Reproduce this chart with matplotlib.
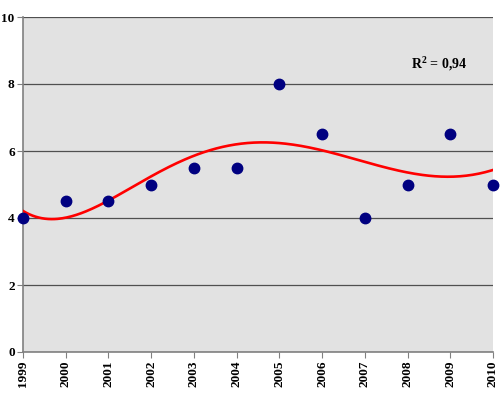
import numpy as np
import matplotlib
matplotlib.use("Agg")
from matplotlib import pyplot as plt

# data
years = [1999, 2000, 2001, 2002, 2003, 2004, 2005, 2006, 2007, 2008, 2009, 2010]
values = [4, 4.5, 4.5, 5, 5.5, 5.5, 8, 6.5, 4, 5, 6.5, 5]
y_ticks = [0, 2, 4, 6, 8, 10]
r2_label = "R$^{2}$ = 0,94"

plt.rcParams["font.family"] = "Liberation Serif"
plt.rcParams["font.weight"] = "bold"
plt.rcParams["mathtext.fontset"] = "custom"
plt.rcParams["mathtext.rm"] = "Liberation Serif:bold"

fig = plt.figure(figsize=(5.02, 3.97), dpi=100)
ax = fig.add_axes([23 / 502, 45 / 397, 470 / 502, 335 / 397])
ax.set_facecolor("#e2e2e2")

# polynomial trend line (5th order) fitted to the points
coef = np.polyfit(np.array(years) - 1999, values, 5)
xs = np.linspace(1999, 2010, 300)
ax.plot(xs, np.polyval(coef, xs - 1999), color="#ff0000", lw=1.9, zorder=3)

ax.plot(years, values, "o", color="#000080", ms=7.5, clip_on=False, zorder=4)

ax.set_xlim(1999, 2010)
ax.set_ylim(0, 10)
ax.set_xticks(years)
ax.set_xticklabels([str(y) for y in years], rotation=90, fontsize=9.5, fontweight="bold")
ax.set_yticks(y_ticks)
ax.set_yticklabels([str(v) for v in y_ticks], fontsize=9.5, fontweight="bold")
ax.yaxis.grid(True, color="#505050", lw=0.9)
ax.set_axisbelow(True)

for s in ["top", "right"]:
    ax.spines[s].set_visible(False)
for s in ["left", "bottom"]:
    ax.spines[s].set_color("#808080")
    ax.spines[s].set_linewidth(1.2)
ax.tick_params(direction="out", length=4, color="#808080", pad=2)

ax.text(2008.73, 8.6, r2_label, fontsize=10, fontweight="bold", ha="center", va="center")

fig.savefig("out.png", dpi=100)
